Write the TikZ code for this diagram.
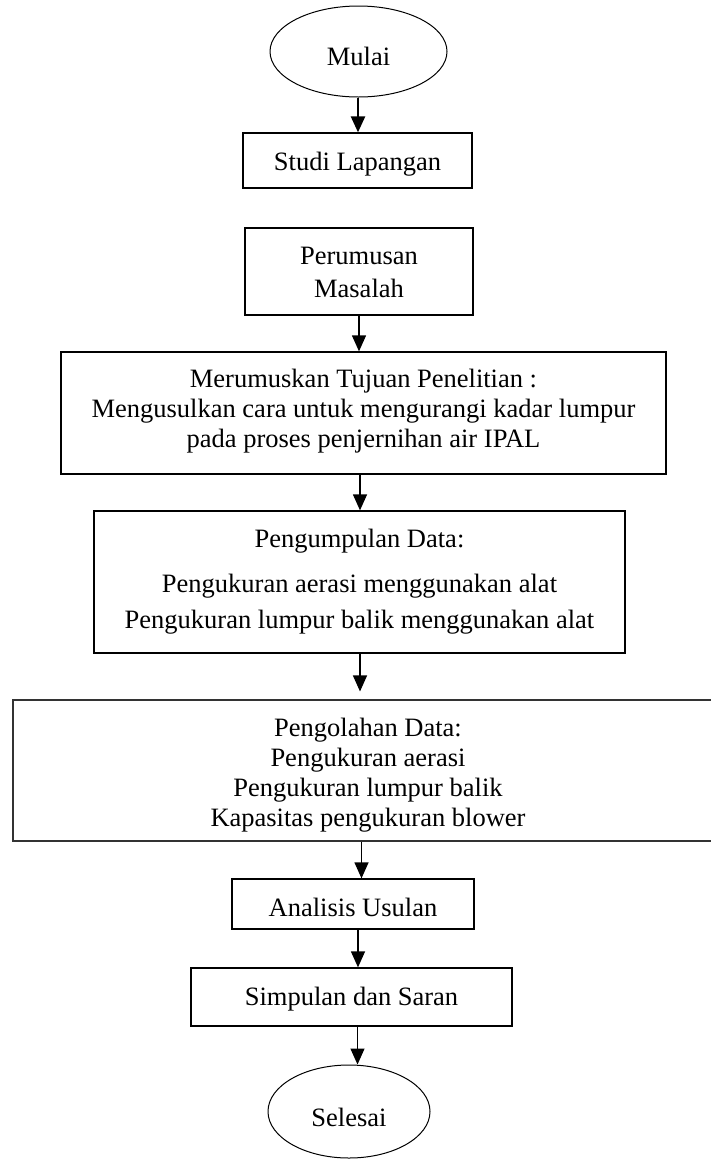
\documentclass[tikz,border=0pt]{standalone}
\usepackage{fontspec}
\setmainfont{Liberation Serif}
\usetikzlibrary{arrows.meta,shapes.geometric}
\newcommand{\mlines}[1]{\begin{tabular}[b]{@{}c@{}}#1\end{tabular}}
\tikzset{
  every node/.style={font=\fontsize{26.5}{31}\selectfont},
  boxnode/.style={draw, line width=1.3pt, rectangle, inner sep=0pt, text depth=0pt},
  ovalnode/.style={draw, line width=1pt, ellipse, inner sep=0pt, text depth=0pt},
  conn/.style={line width=1.3pt, -{Triangle[width=14pt,length=16pt]}},
}
\begin{document}
\begin{tikzpicture}[x=1pt,y=-1pt]
\useasboundingbox (0,0) rectangle (711,1160);
\node[ovalnode, minimum width=177pt, minimum height=91pt, text height=27pt] (mul) at (358.5,51.5) {Mulai};
\node[boxnode, minimum width=229pt, minimum height=55pt, text height=20.4pt] (stu) at (357.5,160.5) {Studi Lapangan};
\node[boxnode, minimum width=228pt, minimum height=87pt, text height=51pt] (per) at (359,271.5) {\mlines{Perumusan\\[2pt] Masalah}};
\node[boxnode, minimum width=605pt, minimum height=122pt, text height=68pt] (mer) at (363.5,413) {\mlines{Merumuskan Tujuan Penelitian :\\[-1pt] Mengusulkan cara untuk mengurangi kadar lumpur\\[-1pt] pada proses penjernihan air IPAL}};
\node[boxnode, minimum width=531pt, minimum height=142pt, text height=92pt] (pgp) at (359.5,582) {\mlines{Pengumpulan Data:\\[14pt] Pengukuran aerasi menggunakan alat\\[5pt] Pengukuran lumpur balik menggunakan alat}};
\node[boxnode, line width=1.1pt, draw=black!80, minimum width=710pt, minimum height=141pt, text height=111pt] (pgo) at (368,770.5) {\mlines{Pengolahan Data:\\[-1pt] Pengukuran aerasi\\[-1pt] Pengukuran lumpur balik\\[-1pt] Kapasitas pengukuran blower}};
\node[boxnode, minimum width=242pt, minimum height=50pt, text height=24pt] (ana) at (353,904) {Analisis Usulan};
\node[boxnode, minimum width=321pt, minimum height=58pt, text height=17.4pt] (sim) at (351.5,997) {Simpulan dan Saran};
\node[ovalnode, minimum width=162pt, minimum height=93pt, text height=30pt] (sel) at (349,1111.5) {Selesai};
\coordinate (x1) at (358,0);
\coordinate (x2) at (359,0);
\coordinate (x3) at (360,0);
\coordinate (x4) at (360,0);
\coordinate (x5) at (361.5,0);
\coordinate (x6) at (358,0);
\coordinate (x7) at (357.5,0);
\draw[conn, line width=2.5pt] (mul.south -| x1) -- (stu.north -| x1);
\draw[conn] (per.south -| x2) -- (mer.north -| x2);
\draw[conn] (mer.south -| x3) -- (pgp.north -| x3);
\draw[conn, shorten >=8pt] (pgp.south -| x4) -- (pgo.north -| x4);
\draw[conn] (pgo.south -| x5) -- (ana.north -| x5);
\draw[conn] (ana.south -| x6) -- (sim.north -| x6);
\draw[conn] (sim.south -| x7) -- (sel.north -| x7);
\end{tikzpicture}
\end{document}
